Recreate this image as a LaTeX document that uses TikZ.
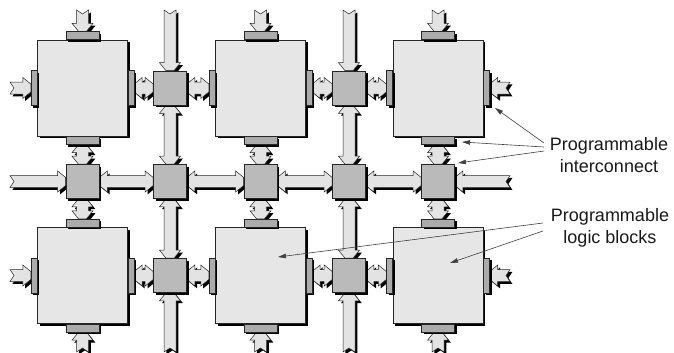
\documentclass[tikz,border=0pt]{standalone}
\usepackage{fontspec}
\setmainfont{Liberation Sans}
\usetikzlibrary{calc,arrows.meta,shadows}
\pgfdeclarelayer{wires}
\pgfsetlayers{wires,main}

\definecolor{blockfill}{HTML}{E6E6E6}
\definecolor{switchfill}{HTML}{BABABA}
\definecolor{padfill}{HTML}{ABABAB}
\definecolor{wirefill}{HTML}{E3E3E3}
\definecolor{edgecol}{HTML}{262626}
\definecolor{leadercol}{HTML}{404040}

% geometry of the fat routing wires
\newcommand\fsw{6pt}    % half width of the shaft
\newcommand\fhw{10.5pt} % half width of a head
\newcommand\fhl{8pt}    % length of a head
\newcommand\ftw{4pt}    % half width of the blunt tip
\newcommand\fnd{4pt}    % depth of the notch at a free end

% end pieces, horizontal wire from \p1 (left) to \p2 (right)
\newcommand\rightHead{-- (\x2-\fhl,\y2+\fsw) -- (\x2-\fhl,\y2+\fhw) -- (\x2,\y2+\ftw) -- (\x2,\y2-\ftw) -- (\x2-\fhl,\y2-\fhw) -- (\x2-\fhl,\y2-\fsw)}
\newcommand\rightNotch{-- (\x2,\y2+\fsw) -- (\x2-\fnd,\y2) -- (\x2,\y2-\fsw)}
\newcommand\leftHead{-- (\x1+\fhl,\y1-\fsw) -- (\x1+\fhl,\y1-\fhw) -- (\x1,\y1-\ftw) -- (\x1,\y1+\ftw) -- (\x1+\fhl,\y1+\fhw) -- cycle}
\newcommand\leftNotch{-- (\x1,\y1-\fsw) -- (\x1+\fnd,\y1) -- (\x1,\y1+\fsw) -- cycle}
% end pieces, vertical wire from \p1 (top) to \p2 (bottom)
\newcommand\bottomHead{-- (\x2+\fsw,\y2+\fhl) -- (\x2+\fhw,\y2+\fhl) -- (\x2+\ftw,\y2) -- (\x2-\ftw,\y2) -- (\x2-\fhw,\y2+\fhl) -- (\x2-\fsw,\y2+\fhl)}
\newcommand\bottomNotch{-- (\x2+\fsw,\y2) -- (\x2,\y2+\fnd) -- (\x2-\fsw,\y2)}
\newcommand\topHead{-- (\x1-\fsw,\y1-\fhl) -- (\x1-\fhw,\y1-\fhl) -- (\x1-\ftw,\y1) -- (\x1+\ftw,\y1) -- (\x1+\fhw,\y1-\fhl) -- cycle}
\newcommand\topNotch{-- (\x1-\fsw,\y1) -- (\x1,\y1-\fnd) -- (\x1+\fsw,\y1) -- cycle}

% #1,#2 end points; #3 left/top piece; #4 right/bottom piece
\newcommand\fatH[4]{\path[fatwire] let \p1=#1, \p2=#2 in (\x1+\fhl,\y1+\fsw) #4 #3;}
\newcommand\fatV[4]{\path[fatwire] let \p1=#1, \p2=#2 in (\x1+\fsw,\y1-\fhl) #4 #3;}

\tikzset{
  hardshadow/.style={drop shadow={shadow xshift=2.4pt, shadow yshift=-2.4pt, fill=black, opacity=1}},
  fatwire/.style={fill=wirefill, draw=edgecol, line width=0.5pt, hardshadow},
  block/.style={draw=edgecol, fill=blockfill, line width=0.6pt, inner sep=0pt,
    minimum width=90pt, minimum height=96pt, hardshadow},
  switchbox/.style={draw=edgecol, fill=switchfill, line width=0.6pt, inner sep=0pt,
    minimum width=33pt, minimum height=34pt, hardshadow},
  hpad/.style={draw=edgecol, fill=padfill, line width=0.4pt, inner sep=0pt,
    minimum width=33pt, minimum height=8pt, hardshadow},
  vpad/.style={draw=edgecol, fill=padfill, line width=0.4pt, inner sep=0pt,
    minimum width=6pt, minimum height=35pt, hardshadow},
  leader/.style={draw=leadercol, line width=0.6pt, -{Triangle[length=8pt,width=4.5pt]}},
  caption/.style={align=center, inner sep=0pt, anchor=north, text=black!90,
    font=\fontsize{18}{22.7}\selectfont},
}

\begin{document}
\begin{tikzpicture}[x=1pt,y=-1pt]
\useasboundingbox (0,0) rectangle (674,353);

% logic blocks with their connection pads
\foreach \r/\ry in {1/88,3/275.5}{
  \foreach \c/\cx in {1/82.5,2/260.5,3/438}{
    \node[block] (b\r\c) at (\cx,\ry) {};
    \node[hpad,anchor=south] (pn\r\c) at (b\r\c.north) {};
    \node[hpad,anchor=north] (ps\r\c) at (b\r\c.south) {};
    \node[vpad,anchor=east]  (pw\r\c) at (b\r\c.west) {};
    \node[vpad,anchor=west]  (pe\r\c) at (b\r\c.east) {};
  }
}

% switch boxes
\foreach \r/\ry in {1/88,3/275.5}{
  \foreach \k/\kx in {1/170,2/349}{
    \node[switchbox] (s\r\k) at (\kx,\ry) {};
  }
}
\foreach \k/\kx in {1/82.5,2/170,3/260.5,4/349,5/438}{
  \node[switchbox] (m\k) at (\kx,181.5) {};
}

% free ends of the routing channels
\foreach \r/\ry in {1/88,2/181.5,3/275.5}{
  \coordinate (fl\r) at (10,\ry);
  \coordinate (fr\r) at (510,\ry);
}
\foreach \c/\cx in {1/82.5,2/260.5,3/438}{
  \coordinate (ft\c) at (\cx,10);
  \coordinate (fb\c) at (\cx,352);
}
\foreach \k/\kx in {1/170,2/349}{
  \coordinate (fts\k) at (\kx,10);
  \coordinate (fbs\k) at (\kx,352);
}

\begin{pgfonlayer}{wires}
  % rows through the logic blocks
  \foreach \r in {1,3}{
    \fatH{(fl\r)}{(pw\r1.west)}{\leftNotch}{\rightHead}
    \fatH{(pe\r1.east)}{(s\r1.west)}{\leftHead}{\rightHead}
    \fatH{(s\r1.east)}{(pw\r2.west)}{\leftHead}{\rightHead}
    \fatH{(pe\r2.east)}{(s\r2.west)}{\leftHead}{\rightHead}
    \fatH{(s\r2.east)}{(pw\r3.west)}{\leftHead}{\rightHead}
    \fatH{(pe\r3.east)}{(fr\r)}{\leftHead}{\rightNotch}
  }
  % middle routing row
  \fatH{(fl2)}{(m1.west)}{\leftNotch}{\rightHead}
  \foreach \a/\b in {1/2,2/3,3/4,4/5}{
    \fatH{(m\a.east)}{(m\b.west)}{\leftHead}{\rightHead}
  }
  \fatH{(m5.east)}{(fr2)}{\leftHead}{\rightNotch}
  % columns through the logic blocks
  \foreach \c/\m in {1/1,2/3,3/5}{
    \fatV{(ft\c)}{(pn1\c.north)}{\topNotch}{\bottomHead}
    \fatV{(ps1\c.south)}{(m\m.north)}{\topHead}{\bottomHead}
    \fatV{(m\m.south)}{(pn3\c.north)}{\topHead}{\bottomHead}
    \fatV{(ps3\c.south)}{(fb\c)}{\topHead}{\bottomNotch}
  }
  % routing columns
  \foreach \k/\m in {1/2,2/4}{
    \fatV{(fts\k)}{(s1\k.north)}{\topNotch}{\bottomHead}
    \fatV{(s1\k.south)}{(m\m.north)}{\topHead}{\bottomHead}
    \fatV{(m\m.south)}{(s3\k.north)}{\topHead}{\bottomHead}
    \fatV{(s3\k.south)}{(fbs\k)}{\topHead}{\bottomNotch}
  }
\end{pgfonlayer}

% captions
\node[caption] (pic) at (609,137) {Programmable\\interconnect};
\node[caption] (plb) at (610,208) {Programmable\\logic blocks};

% leader lines
\coordinate (ic1) at (544,143);
\coordinate (ic2) at (544,147);
\coordinate (ic3) at (544,151);
\coordinate (lb1) at (543,223);
\coordinate (lb2) at (543,231);
\coordinate (ticA) at (495,108);
\coordinate (ticB) at (462,142);
\coordinate (ticC) at (458,163);
\coordinate (tlbA) at (278,257);
\coordinate (tlbB) at (450,263);
\draw[leader] (ic1) -- (ticA);
\draw[leader] (ic2) -- (ticB);
\draw[leader] (ic3) -- (ticC);
\draw[leader] (lb1) -- (tlbA);
\draw[leader] (lb2) -- (tlbB);
\end{tikzpicture}
\end{document}
